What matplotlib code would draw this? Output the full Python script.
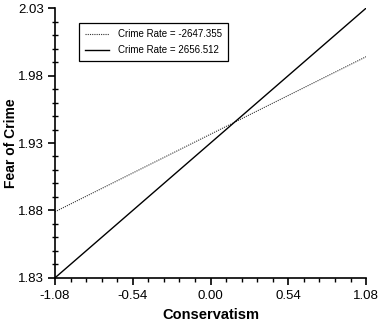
import matplotlib
matplotlib.use("Agg")
import matplotlib.pyplot as plt
from matplotlib.ticker import MultipleLocator

plt.rcParams['font.family'] = ['Liberation Sans', 'DejaVu Sans']

conservatism = [-1.08, 1.08]
fear_low_crime = [1.879, 1.994]
fear_high_crime = [1.830, 2.030]
labels = ["Crime Rate = -2647.355", "Crime Rate = 2656.512"]
xticks = [-1.08, -0.54, 0.00, 0.54, 1.08]
yticks = [1.83, 1.88, 1.93, 1.98, 2.03]

fig = plt.figure(figsize=(3.79, 3.25), dpi=100)
ax = fig.add_axes([0.145, 0.145, 0.821, 0.830])

ax.plot(conservatism, fear_low_crime, color='#333333', lw=0.8, ls=(0, (1, 1)), label=labels[0])
ax.plot(conservatism, fear_high_crime, color='black', lw=1.0, ls='-', label=labels[1])

ax.set_xlim(-1.08, 1.08)
ax.set_ylim(1.83, 2.03)
ax.set_xticks(xticks)
ax.set_xticklabels([f"{v:.2f}" for v in xticks])
ax.set_yticks(yticks)
ax.set_yticklabels([f"{v:.2f}" for v in yticks])
ax.xaxis.set_minor_locator(MultipleLocator(0.108))
ax.yaxis.set_minor_locator(MultipleLocator(0.01))

for s in ['top', 'right']:
    ax.spines[s].set_visible(False)
for s in ['left', 'bottom']:
    ax.spines[s].set_linewidth(1.2)

ax.tick_params(axis='both', which='major', direction='out', length=5, width=1.2, labelsize=9.5, colors='black')
ax.tick_params(axis='x', which='major', pad=4)
ax.tick_params(axis='y', which='major', pad=3)
ax.tick_params(axis='x', which='minor', direction='out', length=3, width=1)
ax.tick_params(axis='y', which='minor', direction='inout', length=4, width=1)

ax.set_xlabel("Conservatism", fontsize=10.5, fontweight='bold', labelpad=4)
ax.set_ylabel("Fear of Crime", fontsize=10, fontweight='bold')
ax.yaxis.set_label_coords(-0.118, 0.5)

leg = ax.legend(loc='upper left', bbox_to_anchor=(0.077, 0.944), borderaxespad=0, fontsize=7,
                frameon=True, fancybox=False, edgecolor='black', framealpha=1,
                handlelength=2.5, handletextpad=0.9, borderpad=0.6, labelspacing=0.65)
leg.get_frame().set_linewidth(0.9)

fig.savefig("out.png", dpi=100)
